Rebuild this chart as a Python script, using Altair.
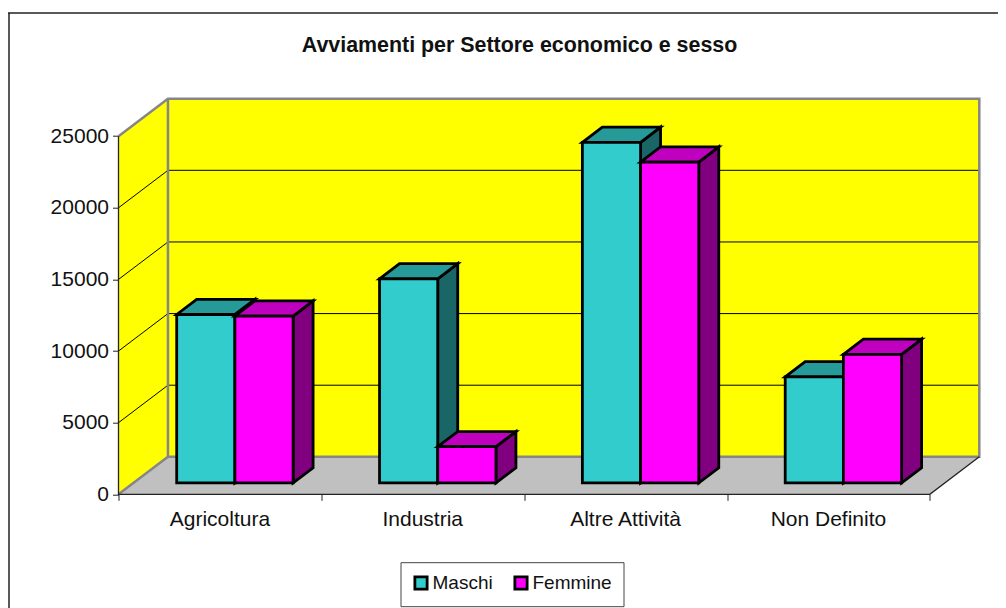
import altair as alt
import pandas as pd

categories = ["Agricoltura", "Industria", "Altre Attività", "Non Definito"]
maschi = [11760, 14250, 23780, 7410]
femmine = [11650, 2530, 22400, 8980]
y_ticks = [0, 5000, 10000, 15000, 20000, 25000]
series_names = ["Maschi", "Femmine"]
title_text = "Avviamenti per Settore economico e sesso"

# oblique projection of the 3D box, in data units
DX = 49.5 / 203
DY = 2615
D0, D1 = 15 / 49.5, 35 / 49.5
BW = 58.25 / 203
VMAX = 25000
n = len(categories)

W, H = 860.8, 395.6
FONT = "Liberation Sans"
SW = 2.8

xs = alt.Scale(domain=[0, n + DX], nice=False, zero=False)
ys = alt.Scale(domain=[0, VMAX + DY], nice=False, zero=False)
xax = alt.Axis(values=list(range(n + 1)), labels=False, title=None, domain=False, grid=False,
               tickColor="#222222", tickSize=6, tickWidth=1)
yax = alt.Axis(values=y_ticks, format="d", title=None, domain=False, grid=False, tickColor="#222222", tickSize=6,
               tickWidth=1, labelFont=FONT, labelFontSize=21, labelColor="#111111", labelPadding=4)
X = alt.X("x:Q", scale=xs, axis=xax)
Y = alt.Y("y:Q", scale=ys, axis=yax)


def base(df):
    return alt.Chart(pd.DataFrame(df))


def vert_area(rows, fill, stroke=None, sw=0):
    kw = {"stroke": stroke, "strokeWidth": sw, "strokeJoin": "miter"} if stroke else {}
    return base(rows).mark_area(orient="vertical", fill=fill, opacity=1, **kw).encode(
        x=X, y=Y, y2=alt.Y2("y2:Q"), detail="k:N")


def horiz_area(rows, fill, stroke=None, sw=0):
    kw = {"stroke": stroke, "strokeWidth": sw, "strokeJoin": "miter"} if stroke else {}
    return base(rows).mark_area(orient="horizontal", fill=fill, opacity=1, **kw).encode(
        y=Y, x=X, x2=alt.X2("x2:Q"), detail="k:N")


# walls and floor
left_wall = vert_area([
    {"x": 0, "y": 0, "y2": VMAX, "k": "w"},
    {"x": DX, "y": DY, "y2": VMAX + DY, "k": "w"}], "#FFFF00")
back_wall = vert_area([
    {"x": DX, "y": DY, "y2": VMAX + DY, "k": "b"},
    {"x": n + DX, "y": DY, "y2": VMAX + DY, "k": "b"}], "#FFFF00")
floor = horiz_area([
    {"y": 0, "x": 0, "x2": n, "k": "f"},
    {"y": DY, "x": DX, "x2": n + DX, "k": "f"}], "#C0C0C0")

grid_rows = []
for v in y_ticks[1:-1]:
    grid_rows += [{"x": 0, "y": v, "k": f"g{v}"}, {"x": DX, "y": v + DY, "k": f"g{v}"},
                  {"x": n + DX, "y": v + DY, "k": f"g{v}"}]
grid = base(grid_rows).mark_line(color="#000000", strokeWidth=1).encode(x=X, y=Y, detail="k:N")

gray_rows = [
    {"x": 0, "y": VMAX, "k": "a"}, {"x": DX, "y": VMAX + DY, "k": "a"},
    {"x": n + DX, "y": VMAX + DY, "k": "a"}, {"x": n + DX, "y": DY, "k": "a"},
    {"x": DX, "y": DY, "k": "a"}, {"x": 0, "y": 0, "k": "a"},
    {"x": DX, "y": DY, "k": "c"}, {"x": DX, "y": VMAX + DY, "k": "c"},
]
gray = base(pd.DataFrame(gray_rows).reset_index()).mark_line(color="#868686", strokeWidth=2.5, strokeJoin="miter").encode(
    x=X, y=Y, detail="k:N", order="index:Q")
black = base(pd.DataFrame([
    {"x": 0, "y": VMAX, "k": "l"}, {"x": 0, "y": 0, "k": "l"},
    {"x": n, "y": 0, "k": "l"}, {"x": n + DX, "y": DY, "k": "l"},
]).reset_index()).mark_line(color="#222222", strokeWidth=1.3).encode(x=X, y=Y, detail="k:N", order="index:Q")


# bars
def bar_layers(name, values, slot, top, side):
    fr, sd, tp = [], [], []
    for i, (c, v) in enumerate(zip(categories, values)):
        xl = i + 0.5 + DX * D0 + (slot - 1) * BW
        xr = xl + BW
        b0, b1 = DY * D0, DY * D1
        fr.append({"x": xl, "x2": xr, "y": v + b0, "y2": b0, "s": name, "k": c})
        sd += [{"x": xr, "y": b0, "y2": v + b0, "k": c},
               {"x": xr + DX * (D1 - D0), "y": b1, "y2": v + b1, "k": c}]
        tp += [{"y": v + b0, "x": xl, "x2": xr, "k": c},
               {"y": v + b1, "x": xl + DX * (D1 - D0), "x2": xr + DX * (D1 - D0), "k": c}]
    front_layer = base(fr).mark_rect(stroke="#000000", strokeWidth=SW, opacity=1, strokeJoin="miter").encode(
        x=X, x2=alt.X2("x2:Q"), y=Y, y2=alt.Y2("y2:Q"),
        color=alt.Color("s:N", scale=alt.Scale(domain=series_names, range=["#33CCCC", "#FF00FF"]),
                        legend=alt.Legend(orient="none", legendX=282, legendY=463.5, direction="horizontal",
                                          columns=2, title=None, fillColor="#FFFFFF", strokeColor="#444444",
                                          padding=11, symbolType="square", symbolSize=150, symbolStrokeWidth=SW,
                                          symbolStrokeColor="#000000", symbolOpacity=1,
                                          labelFont=FONT, labelFontSize=19, labelColor="#111111",
                                          labelOffset=2, columnPadding=15)))
    return [vert_area(sd, side, "#000000", SW), horiz_area(tp, top, "#000000", SW), front_layer]


bars = (bar_layers("Maschi", maschi, 0, "#269999", "#1A6666")
        + bar_layers("Femmine", femmine, 1, "#BF00BF", "#800080"))

cat_labels = base([{"x": i + 0.5, "t": c} for i, c in enumerate(categories)]).mark_text(
    font=FONT, fontSize=21, color="#111111", align="center", baseline="alphabetic").encode(
    x=X, y=alt.value(427.5), text="t:N")
title = alt.Chart(pd.DataFrame({"t": [title_text]})).mark_text(
    font=FONT, fontSize=21.4, fontWeight="bold", color="#111111", align="center", baseline="alphabetic").encode(
    x=alt.value(401), y=alt.value(-47), text="t:N")

frame_left = alt.Chart(pd.DataFrame({"a": [0]})).mark_rule(color="#222222", strokeWidth=1.5).encode(
    x=alt.value(-109.5), y=alt.value(-85.7), y2=alt.value(520))
frame_top = alt.Chart(pd.DataFrame({"a": [0]})).mark_rule(color="#222222", strokeWidth=1.5).encode(
    y=alt.value(-85.7), x=alt.value(-110.5), x2=alt.value(900))

chart = alt.layer(
    frame_left, frame_top, title, left_wall, back_wall, floor, grid, gray, black, *bars, cat_labels
).properties(
    width=W, height=H, autosize="none",
    padding={"left": 110.5, "top": 90.7, "right": 18.7, "bottom": 113.7},
    background="#FFFFFF",
).configure_view(stroke=None)

chart.save("out.html", embed_options={"renderer": "svg", "actions": False})
